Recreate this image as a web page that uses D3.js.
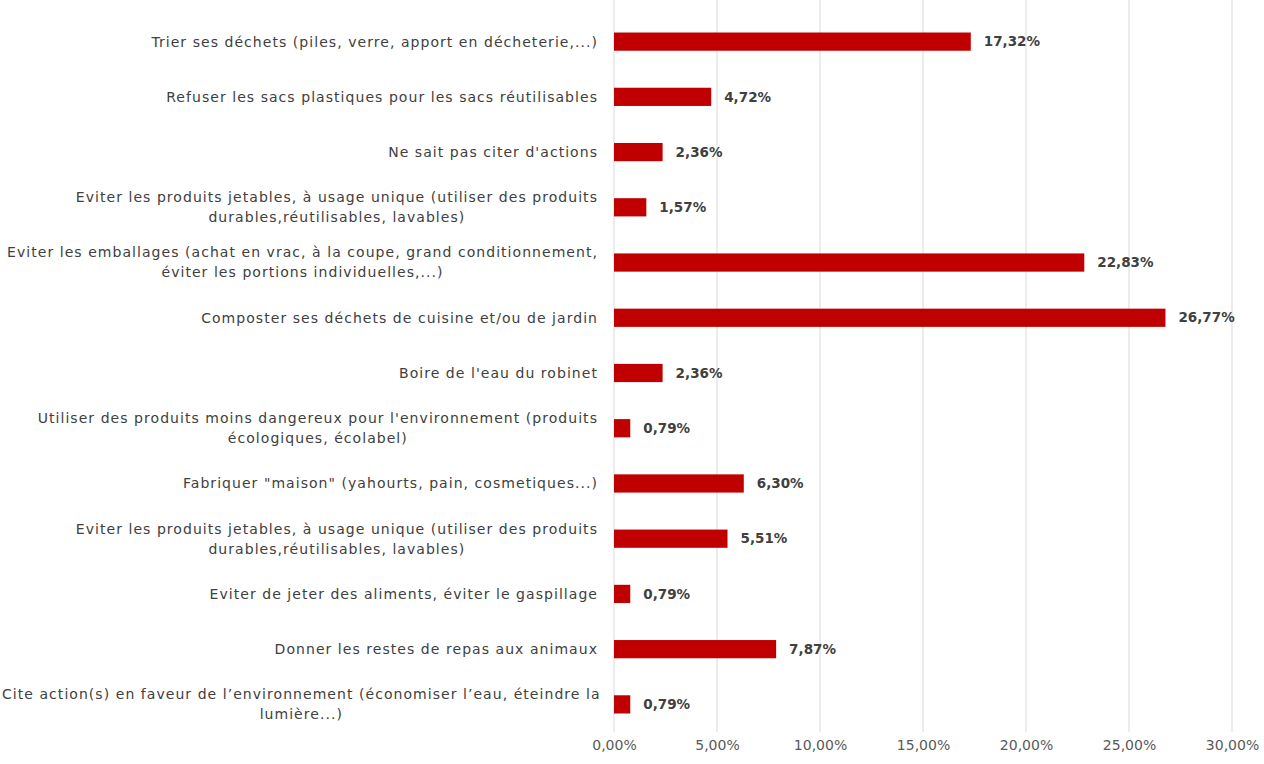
<!DOCTYPE html>
<html>
<head>
<meta charset="utf-8">
<script src="https://cdn.jsdelivr.net/npm/d3@7"></script>
<style>
  body { margin: 0; background: #fff; }
</style>
</head>
<body>
<div id="chart"></div>
<script>
// categories, top to bottom (wrapped lines as in the original)
var categories = [
  ["Trier ses déchets (piles, verre, apport en décheterie,...)"],
  ["Refuser les sacs plastiques pour les sacs réutilisables"],
  ["Ne sait pas citer d'actions"],
  ["Eviter les produits jetables, à usage unique (utiliser des produits", "durables,réutilisables, lavables)"],
  ["Eviter les emballages (achat en vrac, à la coupe, grand conditionnement,", "éviter les portions individuelles,...)"],
  ["Composter ses déchets de cuisine et/ou de jardin"],
  ["Boire de l'eau du robinet"],
  ["Utiliser des produits moins dangereux pour l'environnement (produits", "écologiques, écolabel)"],
  ["Fabriquer \"maison\" (yahourts, pain, cosmetiques...)"],
  ["Eviter les produits jetables, à usage unique (utiliser des produits", "durables,réutilisables, lavables)"],
  ["Eviter de jeter des aliments, éviter le gaspillage"],
  ["Donner les restes de repas aux animaux"],
  ["Cite action(s) en faveur de l\u2019environnement (économiser l\u2019eau, éteindre la", "lumière...)"]
];
var values = [17.32, 4.72, 2.36, 1.57, 22.83, 26.77, 2.36, 0.79, 6.30, 5.51, 0.79, 7.87, 0.79];
var ticks = [0, 5, 10, 15, 20, 25, 30];

var margin = {top: 14, right: 32, bottom: 32, left: 614},
    width = 1264 - margin.left - margin.right,
    height = 764 - margin.top - margin.bottom;

var fmt = function(v) { return v.toFixed(2).replace(".", ",") + "%"; };

var svg = d3.select("#chart")
  .append("svg")
  .attr("width", 1264)
  .attr("height", 764)
  .append("g")
  .attr("transform", "translate(" + margin.left + "," + margin.top + ")");

var x = d3.scaleLinear().domain([0, 30]).range([0, 618]);
var y = d3.scaleBand()
  .domain(d3.range(categories.length))
  .range([0, 718])
  .paddingInner(0.67)
  .paddingOuter(0.335);

// gridlines
svg.append("g")
  .selectAll("line")
  .data(ticks)
  .enter()
  .append("line")
  .attr("x1", function(d) { return x(d); })
  .attr("x2", function(d) { return x(d); })
  .attr("y1", -14)
  .attr("y2", 718)
  .style("stroke", "#d9d9d9")
  .style("stroke-width", 1);

// x axis
var xAxis = svg.append("g")
  .attr("transform", "translate(0,718)")
  .call(d3.axisBottom(x).tickValues(ticks).tickSize(0).tickPadding(8).tickFormat(fmt));
xAxis.select(".domain").remove();
xAxis.selectAll("text")
  .style("font-family", "'DejaVu Sans', sans-serif")
  .style("font-size", "14px")
  .style("fill", "#595959");

// bars
svg.selectAll(".bar")
  .data(values)
  .enter()
  .append("rect")
  .attr("class", "bar")
  .attr("x", 0)
  .attr("y", function(d, i) { return y(i); })
  .attr("width", function(d) { return x(d); })
  .attr("height", y.bandwidth())
  .style("fill", "#c00000");

// value labels
svg.selectAll(".val")
  .data(values)
  .enter()
  .append("text")
  .attr("class", "val")
  .attr("x", function(d) { return x(d) + 13; })
  .attr("y", function(d, i) { return y(i) + y.bandwidth() / 2; })
  .attr("dy", "0.35em")
  .style("font-family", "'DejaVu Sans', sans-serif")
  .style("font-weight", "bold")
  .style("font-size", "13.5px")
  .style("fill", "#404040")
  .text(fmt);

// category labels, wrapped lines centred, block right-aligned
var lineH = 20;
var labels = svg.selectAll(".cat")
  .data(categories)
  .enter()
  .append("text")
  .attr("class", "cat")
  .style("font-family", "'DejaVu Sans', sans-serif")
  .style("font-size", "14px")
  .style("letter-spacing", "1.05px")
  .style("fill", "#404040")
  .attr("text-anchor", "middle");

labels.each(function(lines, i) {
  var t = d3.select(this);
  var cy = y(i) + y.bandwidth() / 2;
  var w = 0;
  lines.forEach(function(l, j) {
    var s = t.append("tspan")
      .attr("x", 0)
      .attr("y", cy + (j - (lines.length - 1) / 2) * lineH)
      .attr("dy", "0.35em")
      .text(l);
    w = Math.max(w, s.node().getComputedTextLength());
  });
  // keep the block inside the left edge of the page
  var cx = Math.max(-16 - w / 2, -margin.left + 2 + w / 2);
  t.selectAll("tspan").attr("x", cx);
});
</script>
</body>
</html>
